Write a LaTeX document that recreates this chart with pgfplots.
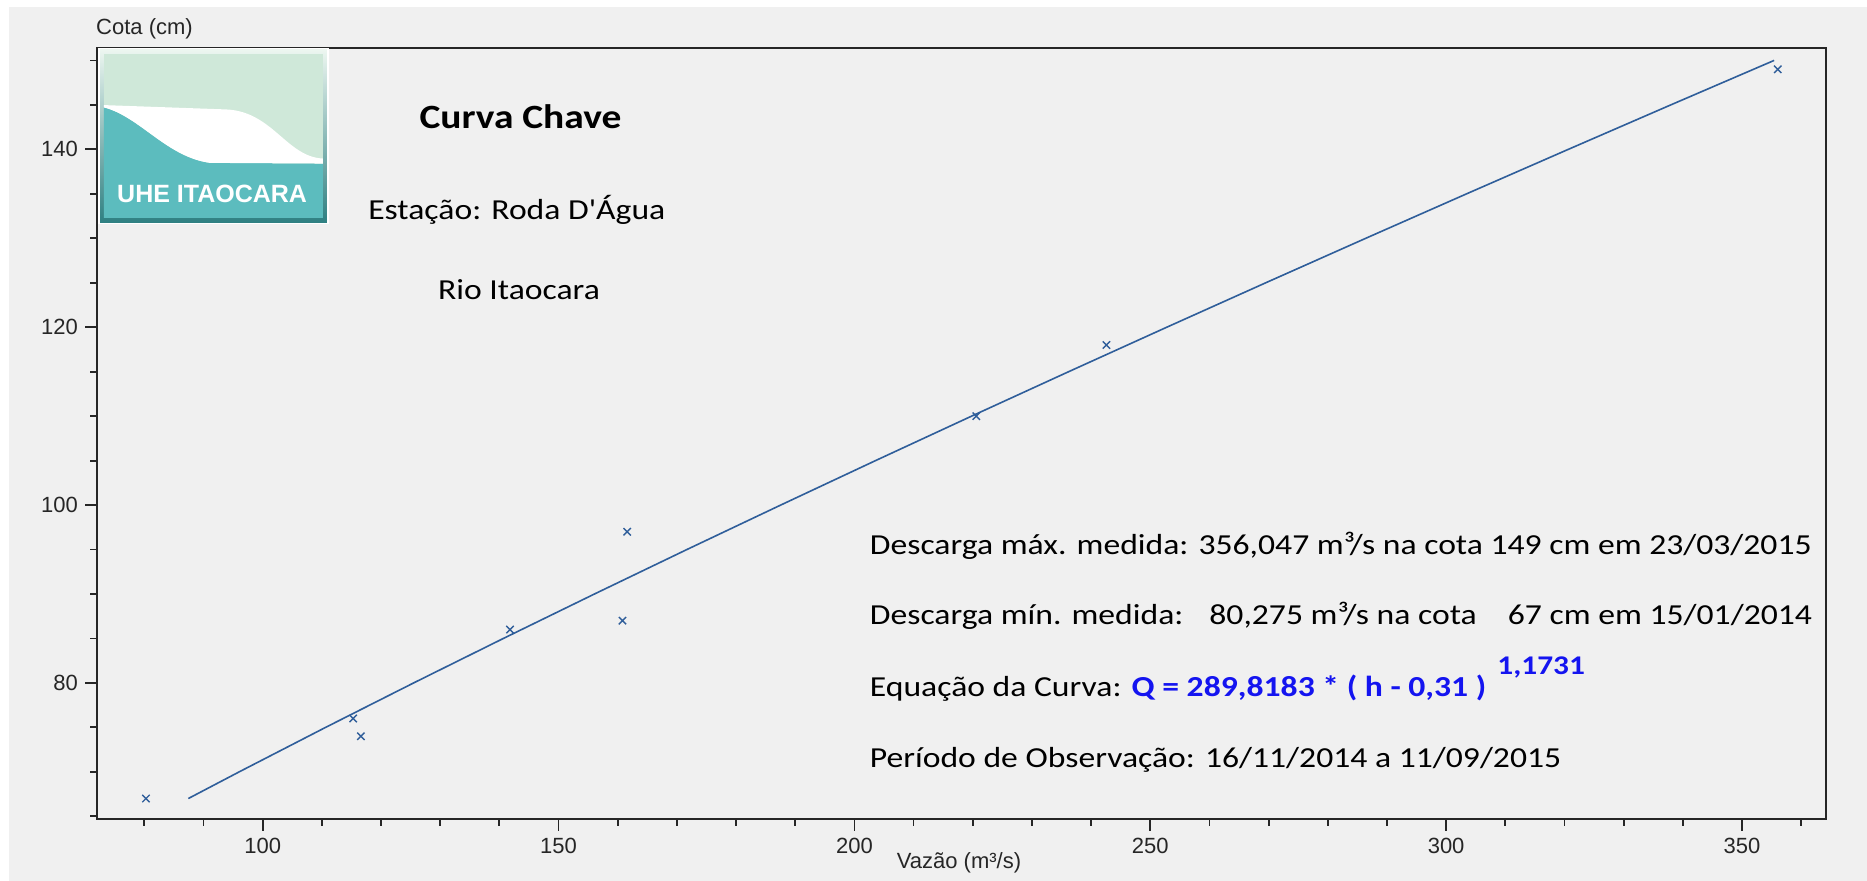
\documentclass[border=0pt]{standalone}
\usepackage{fontspec}
\setmainfont{Carlito}[FakeStretch=1.16]
\newfontfamily\arialf{Liberation Sans}
\usepackage{pgfplots}
\pgfplotsset{compat=1.18}
\definecolor{bg}{HTML}{F0F0F0}
\definecolor{plotblue}{HTML}{2F5E9A}
\definecolor{logogreen}{HTML}{CFE8D9}
\definecolor{logoteal}{HTML}{5CBCBE}
\definecolor{logodark}{HTML}{2F8082}
\definecolor{eqblue}{HTML}{1414F0}
\newcommand{\txt}{\fontsize{14.5}{17}\selectfont}
\begin{document}
\begin{tikzpicture}
\fill[white] (-48.5pt,-31pt) rectangle (885pt,409.5pt);
\fill[bg] (-44pt,-31pt) rectangle (885pt,406pt);
\begin{axis}[
  at={(0,0)}, anchor=south west,
  scale only axis, width=864.5pt, height=385.5pt,
  xmin=72, xmax=364.2, ymin=64.7, ymax=151.4,
  xtick={100,150,...,350}, ytick={80,100,120,140},
  minor xtick={80,90,...,360}, minor ytick={65,70,...,150},
  xtick pos=bottom, ytick pos=left,
  tick align=outside,
  major tick length=6pt, minor tick length=3.3pt,
  every tick/.style={black!85, line width=0.9pt},
  axis line style={line width=1pt, black!85},
  ticklabel style={font=\arialf\fontsize{11}{13}\selectfont, text=black!85},
  /pgf/number format/assume math mode=true,
  clip=false,
]
\addplot[plotblue, line width=0.8pt] coordinates {
(87.43,67) (96.03,70) (110.63,75) (125.51,80) (140.67,85) (156.07,90)
(171.69,95) (187.54,100) (203.57,105) (219.80,110) (236.21,115) (252.79,120)
(269.53,125) (286.42,130) (303.46,135) (320.65,140) (337.97,145) (355.43,150)};
\addplot[only marks, mark=x, mark size=2.6pt, plotblue, mark options={line width=0.7pt}] coordinates {
(80.275,67) (115.3,76) (116.6,74) (141.8,86) (160.8,87) (161.6,97)
(220.6,110) (242.6,118) (356.047,149)};
\end{axis}
% logo
\begin{scope}[shift={(1.5pt,384.5pt)}, x=0.1664pt, y=-0.167pt]
 \fill[white] (-6,-6) rectangle (688,521);
 \shade[top color=logogreen!40!white, bottom color=logodark] (0,0) rectangle (682,515);
 \fill[logogreen] (12,12) rectangle (670,503);
 \fill[logoteal] (12,172) .. controls (120,200) and (200,320) .. (330,338) -- (670,340) -- (670,503) -- (12,503) -- cycle;
 \fill[white] (12,165) -- (380,178) .. controls (520,185) and (560,320) .. (670,325) -- (670,340) -- (330,338) .. controls (200,320) and (120,200) .. (12,172) -- cycle;
 \node[white, font=\arialf\bfseries\fontsize{12.5}{14}\selectfont] at (337,430) {UHE ITAOCARA};
\end{scope}
% texts
\node[font=\bfseries\fontsize{17}{20}\selectfont] at (211.75pt,351.2pt) {Curva Chave};
\node[font=\txt] at (209.9pt,304.7pt) {Estação: Roda D{\addfontfeature{Ligatures=TeXOff}'}Água};
\node[font=\txt] at (211pt,264.8pt) {Rio Itaocara};
\node[anchor=west, inner sep=0pt, font=\txt] at (386.25pt,136.8pt) {Descarga máx. medida: 356,047 m³/s na cota 149 cm em 23/03/2015};
\node[anchor=base west, inner sep=0pt, font=\txt] at (386.25pt,97pt) {Descarga mín. medida:};
\node[anchor=base west, inner sep=0pt, font=\txt] at (556pt,97pt) {80,275 m³/s na cota};
\node[anchor=base west, inner sep=0pt, font=\txt] at (705.25pt,97pt) {67 cm em 15/01/2014};
\node[anchor=base west, inner sep=0pt, font=\txt] at (386.25pt,61pt) {Equação da Curva: \textcolor{eqblue}{\bfseries Q = 289,8183 * ( h - 0,31 )}};
\node[anchor=base west, inner sep=0pt, font=\bfseries\fontsize{13.5}{15}\selectfont, text=eqblue] at (700pt,72.2pt) {1,1731};
\node[anchor=west, inner sep=0pt, font=\txt] at (386.25pt,29.7pt) {Período de Observação: 16/11/2014 a 11/09/2015};
% axis labels
\node[anchor=west, inner sep=0pt, font=\arialf\fontsize{11}{13}\selectfont, text=black!85] at (-0.6pt,395pt) {Cota (cm)};
\node[font=\arialf\fontsize{11}{13}\selectfont, text=black!85] at (431pt,-21.8pt) {Vazão (m³/s)};
\end{tikzpicture}
\end{document}
